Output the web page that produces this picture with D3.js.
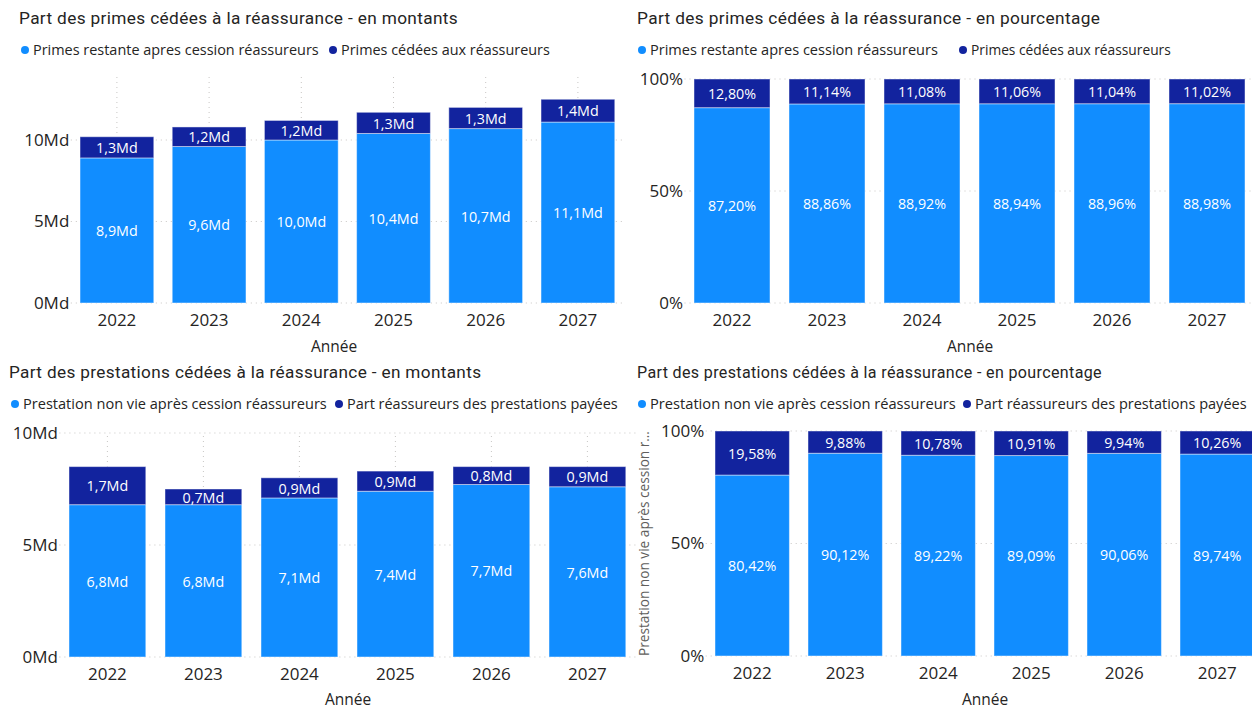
<!DOCTYPE html>
<html lang="fr">
<head>
<meta charset="utf-8">
<title>Part cédée à la réassurance</title>
<script src="https://cdn.jsdelivr.net/npm/d3@7"></script>
<style>
  html, body { margin: 0; padding: 0; background: #ffffff; }
  svg { display: block; }
  .title { font-family: "Roboto", "Noto Sans", sans-serif; font-size: 17.6px; letter-spacing: 0.35px; fill: #252423; }
  .legend text { font-family: "Open Sans", "Noto Sans", sans-serif; font-size: 13px; fill: #252423; }
  .axis text { font-family: "Open Sans", "Noto Sans", sans-serif; font-size: 17px; fill: #252423; }
  .axis-title { font-family: "Open Sans", "Noto Sans", sans-serif; font-size: 15.5px; fill: #252423; }
  .y-title { font-family: "Open Sans", "Noto Sans", sans-serif; font-size: 12.8px; fill: #605E5C; }
  .label { font-family: "Open Sans", "Noto Sans", sans-serif; font-size: 14.3px; fill: #ffffff; }
  .grid line { stroke: #c8c6c4; stroke-width: 1; stroke-dasharray: 1 4; }
</style>
</head>
<body>
<svg id="chart" width="1252" height="709"></svg>
<script>
// ---- Data ----
const years = ["2022", "2023", "2024", "2025", "2026", "2027"];

// Primes (milliards)
const primesRestantes = [8.9, 9.6, 10.0, 10.4, 10.7, 11.1];
const primesCedees    = [1.3, 1.2, 1.2, 1.3, 1.3, 1.4];

// Primes (%)
const primesRestantesPct = [87.20, 88.86, 88.92, 88.94, 88.96, 88.98];
const primesCedeesPct    = [12.80, 11.14, 11.08, 11.06, 11.04, 11.02];

// Prestations (milliards)
const prestationsNettes = [6.8, 6.8, 7.1, 7.4, 7.7, 7.6];
const prestationsCedees = [1.7, 0.7, 0.9, 0.9, 0.8, 0.9];

// Prestations (%)
const prestationsNettesPct = [80.42, 90.12, 89.22, 89.09, 90.06, 89.74];
const prestationsCedeesPct = [19.58, 9.88, 10.78, 10.91, 9.94, 10.26];

// Axis ticks
const montantTicks = [0, 5, 10];
const pctTicks = [0, 50, 100];

// Series names
const primesSeries = ["Primes restante apres cession réassureurs", "Primes cédées aux réassureurs"];
const prestationsSeries = ["Prestation non vie après cession réassureurs", "Part réassureurs des prestations payées"];

const colors = ["#118DFF", "#12239E"];

// ---- Formatting (French decimal comma) ----
const fr = d3.formatLocale({ decimal: ",", thousands: " ", grouping: [3], currency: ["", " €"] });
const fmtMd = v => fr.format(".1f")(v) + "Md";
const fmtMdTick = v => fr.format("d")(v) + "Md";
const fmtPct = v => fr.format(".2f")(v) + "%";
const fmtPctTick = v => fr.format("d")(v) + "%";

const svg = d3.select("#chart");

// Scale a text element's font so that it spans the given width
function fitWidth(sel, width) {
  const node = sel.node();
  const base = parseFloat(getComputedStyle(node).fontSize);
  const w = node.getComputedTextLength();
  if (w > 0) sel.style("font-size", (base * width / w) + "px");
  return sel;
}

function drawPanel(cfg) {
  const g = svg.append("g");

  // Title
  const t = g.append("text").attr("class", "title")
    .attr("x", cfg.titleX).attr("y", cfg.titleY)
    .text(cfg.title);
  fitWidth(t, cfg.titleW);

  // Legend
  const leg = g.append("g").attr("class", "legend");
  cfg.legendItems.forEach((name, i) => {
    leg.append("circle")
      .attr("cx", cfg.legendX[i]).attr("cy", cfg.legendY)
      .attr("r", 4).attr("fill", colors[i]);
    const lt = leg.append("text")
      .attr("x", cfg.legendX[i] + 8).attr("y", cfg.legendY)
      .attr("dy", "0.35em").text(name);
    fitWidth(lt, cfg.legendW[i]);
  });

  const x = d3.scaleBand().domain(years)
    .range(cfg.xRange).paddingInner(0.2).paddingOuter(0.1);
  const y = d3.scaleLinear().domain(cfg.yDomain).range(cfg.yRange);

  // Dotted gridlines
  const grid = g.append("g").attr("class", "grid");
  grid.selectAll("line.h").data(cfg.ticks).join("line")
    .attr("class", "h")
    .attr("x1", cfg.xRange[0]).attr("x2", Math.min(cfg.xRange[1], 1252))
    .attr("y1", d => y(d)).attr("y2", d => y(d));
  grid.selectAll("line.v").data(years).join("line")
    .attr("class", "v")
    .attr("x1", d => x(d) + x.bandwidth() / 2).attr("x2", d => x(d) + x.bandwidth() / 2)
    .attr("y1", cfg.yRange[0]).attr("y2", cfg.gridTop);

  // Stacked bars
  const rows = years.map((yr, i) => ({ year: yr, a: cfg.seriesA[i], b: cfg.seriesB[i] }));
  const stacked = d3.stack().keys(["a", "b"])(rows);

  const layers = g.selectAll("g.layer").data(stacked).join("g")
    .attr("class", "layer")
    .attr("fill", (d, i) => colors[i]);

  layers.selectAll("rect").data(d => d).join("rect")
    .attr("x", d => x(d.data.year))
    .attr("width", x.bandwidth())
    .attr("y", d => y(d[1]))
    .attr("height", d => y(d[0]) - y(d[1]))
    .attr("stroke", "rgba(255,255,255,0.45)")
    .attr("stroke-width", 1);

  // Data labels centred in each segment
  layers.selectAll("text").data(d => d).join("text")
    .attr("class", "label")
    .attr("text-anchor", "middle")
    .attr("x", d => x(d.data.year) + x.bandwidth() / 2)
    .attr("y", d => y((d[0] + d[1]) / 2))
    .attr("dy", "0.4em")
    .text(d => cfg.fmt(d[1] - d[0]));

  // Y axis
  const yAxis = g.append("g").attr("class", "axis")
    .attr("transform", `translate(${cfg.xRange[0]},0)`)
    .call(d3.axisLeft(y).tickValues(cfg.ticks).tickFormat(cfg.tickFmt).tickSize(0).tickPadding(1.5));
  yAxis.select(".domain").remove();
  yAxis.selectAll("text").attr("fill", "#252423");

  // X axis
  const xAxis = g.append("g").attr("class", "axis")
    .attr("transform", `translate(0,${cfg.yRange[0]})`)
    .call(d3.axisBottom(x).tickSize(0).tickPadding(10.5));
  xAxis.select(".domain").remove();
  xAxis.selectAll("text").attr("fill", "#252423");

  // X axis title
  g.append("text").attr("class", "axis-title")
    .attr("x", cfg.xTitleX).attr("y", cfg.xTitleY)
    .attr("text-anchor", "middle").attr("dy", "0.35em")
    .text("Année");

  // Optional rotated Y axis title
  if (cfg.yTitle) {
    const yt = g.append("text").attr("class", "y-title")
      .attr("transform", `translate(${cfg.yTitleX},${(cfg.yRange[0] + cfg.yRange[1]) / 2}) rotate(-90)`)
      .attr("text-anchor", "middle").attr("dy", "0.35em")
      .text(cfg.yTitle);
    fitWidth(yt, cfg.yTitleW);
  }
}

// Top-left: primes en montants
drawPanel({
  title: "Part des primes cédées à la réassurance - en montants",
  titleX: 19, titleY: 24, titleW: 439,
  legendItems: primesSeries, legendX: [25, 333], legendW: [286, 209], legendY: 50,
  xRange: [70.8, 624], yDomain: [0, 10], yRange: [303, 140], gridTop: 73,
  seriesA: primesRestantes, seriesB: primesCedees,
  ticks: montantTicks, fmt: fmtMd, tickFmt: fmtMdTick,
  xTitleX: 334, xTitleY: 347
});

// Top-right: primes en pourcentage
drawPanel({
  title: "Part des primes cédées à la réassurance - en pourcentage",
  titleX: 637, titleY: 24, titleW: 463,
  legendItems: primesSeries, legendX: [642, 963], legendW: [288, 200], legendY: 50,
  xRange: [684.5, 1254.5], yDomain: [0, 100], yRange: [303, 79], gridTop: 79,
  seriesA: primesRestantesPct, seriesB: primesCedeesPct,
  ticks: pctTicks, fmt: fmtPct, tickFmt: fmtPctTick,
  xTitleX: 970, xTitleY: 347
});

// Bottom-left: prestations en montants
drawPanel({
  title: "Part des prestations cédées à la réassurance - en montants",
  titleX: 9, titleY: 378, titleW: 472,
  legendItems: prestationsSeries, legendX: [15, 339], legendW: [304, 271], legendY: 404,
  xRange: [59.4, 635.4], yDomain: [0, 10], yRange: [657, 433], gridTop: 433,
  seriesA: prestationsNettes, seriesB: prestationsCedees,
  ticks: montantTicks, fmt: fmtMd, tickFmt: fmtMdTick,
  xTitleX: 348, xTitleY: 700
});

// Bottom-right: prestations en pourcentage
drawPanel({
  title: "Part des prestations cédées à la réassurance - en pourcentage",
  titleX: 637, titleY: 378, titleW: 463,
  legendItems: prestationsSeries, legendX: [642, 967], legendW: [306, 272], legendY: 404,
  xRange: [705.7, 1263.7], yDomain: [0, 100], yRange: [656, 431], gridTop: 431,
  seriesA: prestationsNettesPct, seriesB: prestationsCedeesPct,
  ticks: pctTicks, fmt: fmtPct, tickFmt: fmtPctTick,
  xTitleX: 985, xTitleY: 700,
  yTitle: "Prestation non vie après cession r…", yTitleX: 644, yTitleW: 225
});
</script>
</body>
</html>
